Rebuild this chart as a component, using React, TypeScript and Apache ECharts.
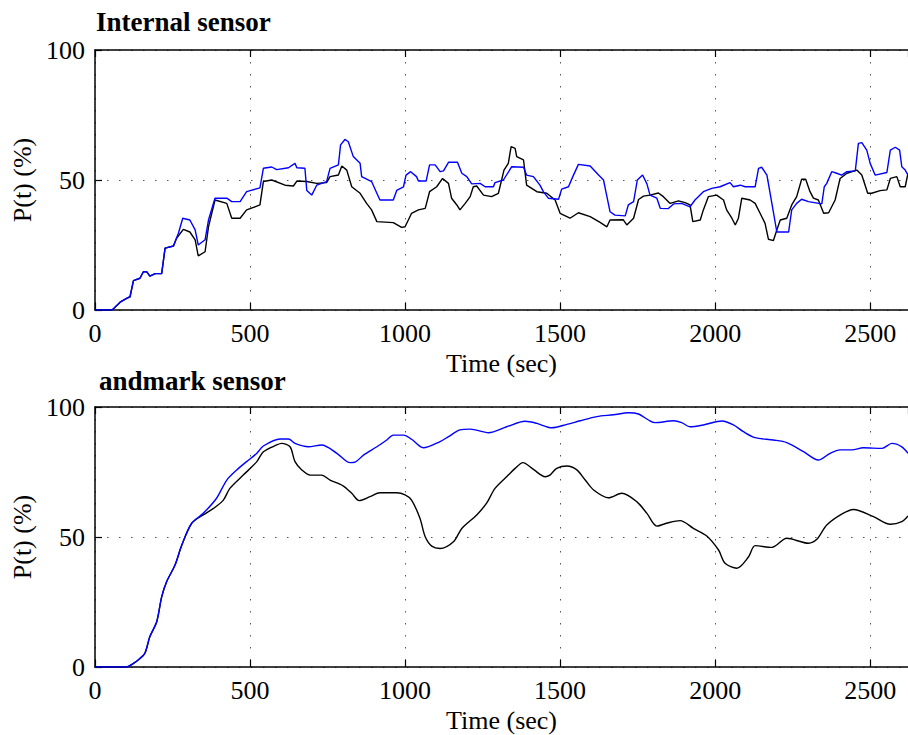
import React, { useEffect, useRef } from "react";
import * as echarts from "echarts";

// ---------- data ----------
const panelTitles = ["Internal sensor", "andmark sensor"];
const xAxisName = "Time (sec)";
const yAxisName = "P(t) (%)";
const xMax = 2622;
const xInterval = 500;
const yMax = 100;
const yInterval = 50;

// Internal sensor, black trace: [time (s), P(t) %]
const internalBlack: number[][] = [
  [0, 0], [55, 0], [62, 0.8], [81, 3], [102, 4.5], [113, 5.1], [124, 11.3], [145, 12.2], [156, 14.7], [167, 14.7],
  [177, 13], [194, 14], [215, 14], [226, 23.8], [253, 24.6], [263, 27.6], [285, 31], [306, 30], [323, 27], [333, 20.8],
  [355, 22.4], [366, 32], [387, 42.3], [425, 41], [441, 35.3], [468, 35.3], [489, 38.5], [532, 40.4], [543, 49.4], [570, 50],
  [613, 48], [640, 47.7], [651, 49.6], [683, 49.4], [715, 48.7], [747, 49], [758, 51.3], [785, 51.9], [796, 55.4], [812, 53.8],
  [828, 47.4], [855, 44.9], [876, 41], [892, 38.5], [909, 34], [962, 33.6], [989, 31.8], [1000, 32], [1021, 37.2], [1043, 38.5],
  [1065, 39.1], [1079, 45.5], [1102, 47.4], [1121, 50.6], [1140, 48.7], [1150, 43], [1167, 40.4], [1177, 38.5], [1194, 41], [1210, 43.6],
  [1220, 47.4], [1231, 47.7], [1253, 44.2], [1279, 43.6], [1301, 44.9], [1319, 53.8], [1333, 56.4], [1342, 62.8], [1355, 62.2], [1360, 59],
  [1382, 57.7], [1392, 48], [1425, 45.5], [1457, 44.9], [1484, 42.3], [1500, 37.2], [1532, 35.3], [1559, 37.4], [1597, 35.9], [1629, 33.7],
  [1651, 32], [1661, 34.6], [1704, 34.7], [1715, 32.7], [1737, 35.3], [1753, 42.5], [1769, 43.8], [1790, 44.2], [1817, 45], [1833, 43.6],
  [1855, 41], [1882, 42], [1903, 41.3], [1919, 40.4], [1928, 34], [1952, 34.6], [1962, 38.5], [1978, 43.6], [2005, 44.2], [2027, 42.3],
  [2037, 38.5], [2054, 35.3], [2065, 32.7], [2075, 35.3], [2086, 43], [2113, 42.3], [2129, 41], [2145, 37.2], [2161, 33.3], [2172, 27.2],
  [2188, 26.7], [2199, 30.8], [2210, 34.6], [2231, 35.3], [2247, 40.4], [2263, 43.6], [2279, 50.3], [2292, 50.3], [2306, 45.5], [2317, 43],
  [2333, 42.3], [2350, 37.2], [2366, 37.4], [2387, 42.3], [2403, 50.6], [2425, 52.6], [2457, 53.8], [2473, 51.9], [2492, 44.9], [2505, 44.9],
  [2532, 45.9], [2554, 46.2], [2565, 50.6], [2586, 51.3], [2597, 47.4], [2613, 47.4], [2622, 52.6],
];

// Internal sensor, blue trace
const internalBlue: number[][] = [
  [0, 0], [55, 0], [62, 0.8], [81, 3], [102, 4.5], [113, 5.1], [124, 11.3], [145, 12.2], [156, 14.7], [167, 14.7],
  [177, 13], [194, 14], [215, 14], [226, 23.8], [253, 24.6], [269, 29.5], [283, 35.3], [306, 34.6], [323, 30.8], [333, 25],
  [355, 27], [366, 34.6], [387, 43], [425, 43], [441, 41.7], [468, 41.7], [489, 45.5], [532, 47], [543, 54.5], [570, 55],
  [586, 54], [624, 54.7], [645, 56.4], [651, 54.7], [677, 54.5], [683, 46], [699, 44.2], [715, 48], [747, 49.4], [758, 54.5],
  [785, 55.8], [792, 63.5], [806, 65.6], [817, 64.7], [833, 59], [855, 56.4], [860, 51.3], [892, 49.4], [909, 44.9], [919, 42.3],
  [962, 42.3], [973, 46], [995, 47.4], [1003, 51.9], [1018, 53.2], [1037, 51.3], [1043, 49.6], [1068, 49.6], [1079, 55.8], [1097, 55.8],
  [1113, 53.2], [1124, 53.5], [1140, 56.8], [1169, 56.8], [1183, 52.6], [1199, 51.3], [1215, 48.5], [1242, 48.7], [1258, 47.4], [1285, 47.4],
  [1290, 49], [1317, 50], [1344, 55.1], [1382, 54.9], [1392, 51.9], [1414, 51.3], [1435, 48], [1446, 45.5], [1462, 43], [1495, 42.6],
  [1505, 46.5], [1527, 47.4], [1541, 51.3], [1559, 56], [1597, 55.4], [1624, 51.9], [1640, 50], [1651, 43.6], [1661, 37.8], [1677, 36.5],
  [1710, 36.2], [1720, 40.4], [1737, 41.7], [1749, 50], [1766, 51.9], [1780, 48.5], [1790, 44.2], [1812, 43], [1823, 39.1], [1849, 39],
  [1866, 40.8], [1892, 41], [1919, 39.7], [1935, 42.3], [1962, 45.5], [1989, 46.8], [2016, 47.4], [2048, 49], [2059, 47.4], [2081, 48],
  [2097, 47.4], [2129, 47.4], [2140, 54.5], [2150, 54.9], [2167, 51.9], [2183, 41], [2199, 30], [2237, 30], [2247, 38.5], [2263, 41],
  [2279, 42.6], [2301, 41.7], [2344, 40.8], [2352, 47.4], [2360, 48.7], [2376, 53.2], [2392, 52.6], [2408, 51.9], [2425, 53.2], [2452, 53.5],
  [2462, 64.1], [2473, 64.4], [2489, 61.5], [2500, 56.4], [2516, 51.9], [2554, 52.9], [2565, 61.5], [2581, 62.6], [2595, 61.5], [2602, 55.1],
  [2613, 53.8], [2622, 51.9],
];

// Landmark sensor, black trace
const landmarkBlack: number[][] = [
  [0, 0], [102, 0], [124, 1.4], [145, 3.3], [161, 5.3], [177, 11.7], [199, 17.4], [215, 27], [231, 32.8], [258, 39.2],
  [280, 46.9], [312, 55.3], [349, 58.5], [382, 61], [414, 64.2], [435, 68.7], [478, 73.8], [522, 79], [543, 82.8], [586, 85.4],
  [602, 86], [629, 84.7], [645, 79], [667, 75.8], [694, 73.8], [731, 73.8], [758, 71.9], [801, 69.6], [828, 66.8], [852, 64],
  [887, 65.5], [919, 67], [973, 67], [1000, 66.2], [1021, 64.2], [1048, 57.2], [1065, 50.1], [1086, 46.5], [1113, 45.6], [1156, 48.2],
  [1183, 53.3], [1231, 58.5], [1263, 63], [1290, 68.7], [1333, 73.8], [1355, 76.4], [1380, 78.6], [1414, 76], [1452, 73.2], [1467, 73.8],
  [1489, 76.4], [1522, 77.3], [1554, 75.8], [1581, 71.9], [1608, 68.1], [1656, 65.1], [1699, 66.8], [1747, 63.6], [1780, 59.1], [1812, 54.2],
  [1849, 55.5], [1887, 56.3], [1930, 53.3], [1973, 50.4], [2011, 45], [2032, 39.9], [2070, 38], [2108, 42.4], [2129, 46.7], [2183, 46],
  [2231, 49.5], [2301, 47.6], [2328, 49.1], [2360, 54.6], [2408, 58.8], [2446, 60.6], [2511, 57.8], [2565, 54.9], [2602, 55.9], [2622, 58.1],
];

// Landmark sensor, blue trace
const landmarkBlue: number[][] = [
  [0, 0], [102, 0], [124, 1.4], [145, 3.3], [161, 5.3], [177, 11.7], [199, 17.4], [215, 27], [231, 32.8], [258, 39.2],
  [280, 46.9], [312, 55.3], [349, 59.1], [392, 64.9], [425, 71.9], [457, 75.8], [489, 79], [522, 82.2], [543, 85], [597, 87.7],
  [624, 87.7], [645, 86], [688, 84.7], [731, 85.4], [780, 82.2], [823, 78.6], [839, 78.8], [866, 81.5], [909, 84.7], [941, 87.3],
  [962, 89.2], [995, 89.2], [1021, 87.6], [1059, 84.3], [1113, 86.7], [1140, 88.6], [1177, 91.2], [1210, 91.5], [1269, 90.1], [1328, 92.4],
  [1387, 94.5], [1425, 93.7], [1473, 92], [1522, 93.3], [1565, 94.7], [1618, 96.3], [1672, 97], [1720, 97.8], [1753, 97.3], [1785, 95],
  [1806, 94], [1866, 94.7], [1892, 94], [1919, 92.4], [1962, 93.1], [2022, 94.6], [2059, 93.1], [2091, 90.5], [2129, 88.2], [2188, 87.3],
  [2231, 86.3], [2285, 82.8], [2333, 79.6], [2371, 82.2], [2403, 83.5], [2441, 83.5], [2478, 84.3], [2538, 84.1], [2570, 86], [2602, 84.7],
  [2622, 82.2],
];

// ---------- styling ----------
const FONT = "'Liberation Serif', 'DejaVu Serif', serif";
const BLACK = "#000000";
const BLUE = "#0000ff";
const GRID_DOT = "#555555";

const gridBoxes = [
  { left: 95, top: 50, right: 0, height: 260 },
  { left: 95, top: 407, right: 0, height: 260 },
];

function xAxes(gridIndex: number) {
  const common = {
    gridIndex,
    type: "value" as const,
    min: 0,
    max: xMax,
    interval: xInterval,
    axisLine: { show: true, onZero: false, lineStyle: { color: BLACK, width: 1.5 } },
    axisTick: { show: true, inside: true, length: 7, lineStyle: { color: BLACK, width: 1.2 } },
  };
  return [
    {
      ...common,
      position: "bottom",
      name: xAxisName,
      nameLocation: "middle",
      nameGap: 40,
      nameTextStyle: { fontSize: 26, fontFamily: FONT, color: BLACK },
      axisLabel: {
        fontSize: 26,
        fontFamily: FONT,
        color: BLACK,
        margin: 10,
        showMaxLabel: false,
        formatter: (v: number) => (v % xInterval === 0 ? String(v) : ""),
      },
      splitLine: { show: true, lineStyle: { color: GRID_DOT, width: 1, type: [1.5, 10.5] } },
    },
    {
      ...common,
      position: "top",
      axisLabel: { show: false },
      splitLine: { show: false },
    },
  ];
}

function yAxis(gridIndex: number) {
  return {
    gridIndex,
    type: "value" as const,
    min: 0,
    max: yMax,
    interval: yInterval,
    name: yAxisName,
    nameLocation: "middle",
    nameGap: 54,
    nameRotate: 90,
    nameTextStyle: { fontSize: 26, fontFamily: FONT, color: BLACK },
    axisLine: { show: true, onZero: false, lineStyle: { color: BLACK, width: 1.5 } },
    axisTick: { show: true, inside: true, length: 7, lineStyle: { color: BLACK, width: 1.2 } },
    axisLabel: { fontSize: 26, fontFamily: FONT, color: BLACK, margin: 10 },
    splitLine: { show: true, lineStyle: { color: GRID_DOT, width: 1, type: [1.5, 10.5] } },
  };
}

function lineSeries(data: number[][], color: string, axisIdx: number, xIdx: number, smooth: number | boolean) {
  return {
    type: "line",
    data,
    xAxisIndex: xIdx,
    yAxisIndex: axisIdx,
    symbol: "none",
    smooth,
    clip: true,
    lineStyle: { color, width: 1.4 },
    itemStyle: { color },
    z: 3,
  };
}

export default function App() {
  const ref = useRef<HTMLDivElement>(null);
  useEffect(() => {
    if (!ref.current) return;
    const chart = echarts.init(ref.current, undefined, { renderer: "svg" });
    chart.setOption({
      animation: false,
      backgroundColor: "#ffffff",
      title: [
        {
          text: panelTitles[0],
          left: 96,
          top: 8,
          padding: 0,
          textStyle: { fontSize: 27, fontWeight: "bold", fontFamily: FONT, color: BLACK },
        },
        {
          text: panelTitles[1],
          left: 99,
          top: 367,
          padding: 0,
          textStyle: { fontSize: 27, fontWeight: "bold", fontFamily: FONT, color: BLACK },
        },
      ],
      grid: gridBoxes.map((g) => ({ ...g, containLabel: false })),
      xAxis: [...xAxes(0), ...xAxes(1)],
      yAxis: [yAxis(0), yAxis(1)],
      series: [
        lineSeries(internalBlack, BLACK, 0, 0, false),
        lineSeries(internalBlue, BLUE, 0, 0, false),
        lineSeries(landmarkBlack, BLACK, 1, 2, 0.3),
        lineSeries(landmarkBlue, BLUE, 1, 2, 0.3),
      ],
    });
    return () => chart.dispose();
  }, []);
  return (
    <div
      ref={ref}
      style={{ position: "absolute", left: 0, top: 0, width: 908, height: 735, background: "#fff" }}
    />
  );
}
